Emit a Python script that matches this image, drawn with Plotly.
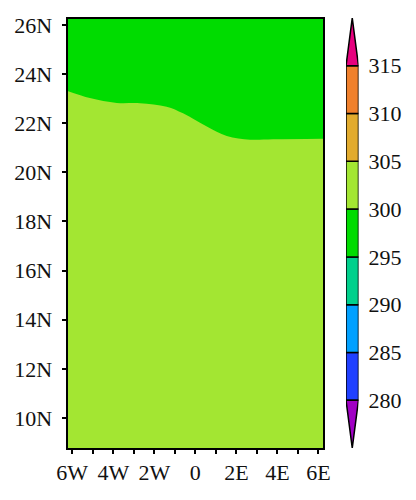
import plotly.graph_objects as go

# Boundary between the 300-305 and 295-300 shaded regions
boundary_lon = [-6.23, -5.14, -3.83, -2.70, -1.40, -0.60, 0.56, 1.53, 2.67, 3.79, 6.22]
boundary_lat = [23.31, 23.02, 22.82, 22.81, 22.67, 22.40, 21.86, 21.48, 21.33, 21.35, 21.37]

lon_ticks = [-6, -5, -4, -3, -2, -1, 0, 1, 2, 3, 4, 5, 6]
lon_labels = ["6W", "", "4W", "", "2W", "", "0", "", "2E", "", "4E", "", "6E"]
lat_ticks = [10, 12, 14, 16, 18, 20, 22, 24, 26]
lat_labels = ["10N", "12N", "14N", "16N", "18N", "20N", "22N", "24N", "26N"]

levels = [280, 285, 290, 295, 300, 305, 310, 315]
band_colors = ["#2040ff", "#00a0ff", "#00d08c", "#00dc00", "#a3e632", "#e2ab2e", "#f0802c"]
low_arrow_color = "#a000c4"
high_arrow_color = "#e6007e"
arrow_low = 275
arrow_high = 320

LIME = "#a3e632"
GREEN = "#00dc00"
FONT = dict(family="Liberation Serif", size=22, color="#111111")
W, H = 416, 500
PAGE = 8  # page margin the browser adds around the figure

def fx(px):
    return (px - PAGE) / W

def fy(px):
    return 1 - (px - PAGE) / H

fig = go.Figure()

# Map panel: lower region filled from the boundary; the panel background is the upper region
fig.add_trace(go.Scatter(
    x=boundary_lon, y=boundary_lat, mode="lines", line=dict(width=0, shape="spline", smoothing=1.0),
    fill="tozeroy", fillcolor=LIME, hoverinfo="skip", showlegend=False, xaxis="x", yaxis="y",
))

# Colour key bands
for lo, hi, col in zip(levels[:-1], levels[1:], band_colors):
    fig.add_trace(go.Bar(
        x=[0.5], y=[hi - lo], base=[lo], width=[1], marker=dict(color=col, line=dict(color="black", width=1.5)),
        hoverinfo="skip", showlegend=False, xaxis="x2", yaxis="y2",
    ))

# Colour key arrows
for ys, col in (([levels[0], arrow_low, levels[0], levels[0]], low_arrow_color),
                ([levels[-1], arrow_high, levels[-1], levels[-1]], high_arrow_color)):
    fig.add_trace(go.Scatter(
        x=[0, 0.5, 1, 0], y=ys, mode="lines", fill="toself", fillcolor=col,
        line=dict(color="black", width=1.5), hoverinfo="skip", showlegend=False,
        xaxis="x2", yaxis="y2",
    ))

fig.update_layout(
    width=W, height=H, margin=dict(l=0, r=0, t=0, b=0, autoexpand=False),
    paper_bgcolor="white", plot_bgcolor="white", font=FONT, barmode="overlay", showlegend=False,
    shapes=[dict(type="rect", xref="x domain", yref="y domain", x0=0, x1=1, y0=0, y1=1,
                 fillcolor=GREEN, line=dict(width=0), layer="below")],
    xaxis=dict(domain=[fx(67.5), fx(323)], range=[-6.23, 6.22], tickvals=lon_ticks, ticktext=lon_labels,
               ticks="outside", ticklen=4, tickwidth=1.5, tickcolor="black", showgrid=False, zeroline=False,
               showline=True, linecolor="black", linewidth=2, mirror=True, tickangle=0, anchor="y",
               automargin=False, ticklabelstandoff=0),
    yaxis=dict(domain=[fy(448), fy(19)], range=[8.78, 26.24], tickvals=lat_ticks, ticktext=lat_labels,
               ticks="outside", ticklen=4, tickwidth=1.5, tickcolor="black", showgrid=False, zeroline=False,
               showline=True, linecolor="black", linewidth=2, mirror=True, anchor="x", automargin=False,
               ticklabelstandoff=5),
    xaxis2=dict(domain=[fx(346), fx(358.5)], range=[0, 1], visible=False, anchor="y2", fixedrange=True,
                automargin=False),
    yaxis2=dict(domain=[fy(448), fy(18)], range=[arrow_low, arrow_high], side="right", anchor="x2",
                tickvals=levels, ticktext=[str(v) for v in levels], ticks="", showgrid=False, zeroline=False,
                showline=False, ticklabelstandoff=9, automargin=False),
)

fig.write_html("out.html")
